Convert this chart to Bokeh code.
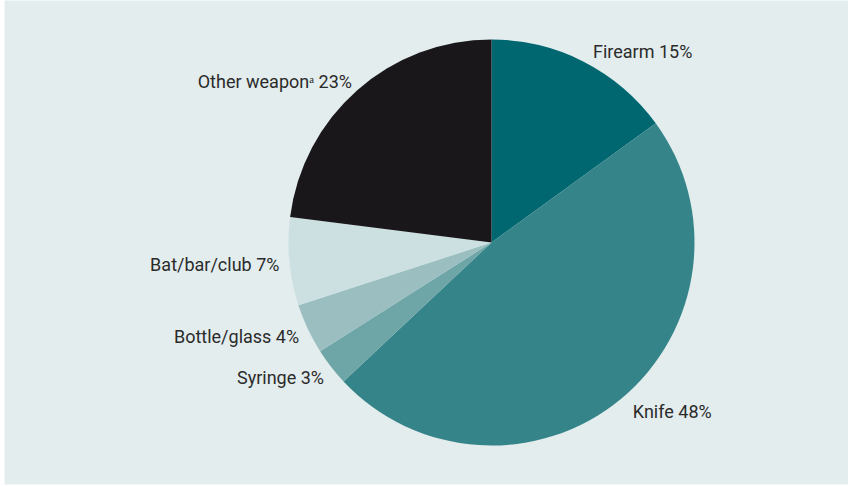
import math
from bokeh.plotting import figure
from bokeh.models import Range1d, ColumnDataSource
from bokeh.core.properties import value
from bokeh.embed import file_html
from bokeh.resources import INLINE

# ---- data ----
categories = ["Firearm", "Knife", "Syringe", "Bottle/glass", "Bat/bar/club", "Other weapon\u1d43"]
percents = [15, 48, 3, 4, 7, 23]
colors = ["#006770", "#358489", "#6ea5a7", "#9bbfc1", "#cde0e1", "#1a171b"]

# ---- layout ----
W, H = 848, 486
CX, CY = 491, 244
R = 203
LABEL_R = 217
FONT = "Roboto"

p = figure(width=W, height=H, output_backend="svg", toolbar_location=None,
           x_range=Range1d(4, W), y_range=Range1d(2, H),
           min_border_left=4, min_border_right=0, min_border_top=0, min_border_bottom=2)
p.background_fill_color = "#e3edee"
p.border_fill_color = "white"
p.outline_line_color = None
p.axis.visible = False
p.grid.visible = False

total = float(sum(percents))
starts, ends, mids = [], [], []
cum = 0.0
for v in percents:
    s = cum / total
    e = (cum + v) / total
    starts.append(math.pi / 2 - 2 * math.pi * e)
    ends.append(math.pi / 2 - 2 * math.pi * s)
    mids.append(math.pi / 2 - 2 * math.pi * (s + e) / 2)
    cum += v

src = ColumnDataSource(dict(start=starts, end=ends, color=colors,
                            x=[CX] * len(percents), y=[CY] * len(percents)))
p.wedge(x="x", y="y", radius=R, start_angle="start", end_angle="end",
        fill_color="color", line_color=None, source=src)

lx, ly, lt, la = [], [], [], []
for cat, v, m in zip(categories, percents, mids):
    right = math.cos(m) >= 0
    lx.append(CX + LABEL_R * math.cos(m) + (3 if right else 4))
    ly.append(CY + LABEL_R * math.sin(m) - 2)
    lt.append(f"{cat} {v}%")
    la.append("left" if right else "right")

lsrc = ColumnDataSource(dict(x=lx, y=ly, text=lt, align=la))
p.text(x="x", y="y", text="text", text_align="align", text_baseline="middle",
       text_font=value(FONT), text_font_size="18px", text_color="#2b2b2b", source=lsrc)

open("out.html", "w").write(file_html(p, INLINE))
